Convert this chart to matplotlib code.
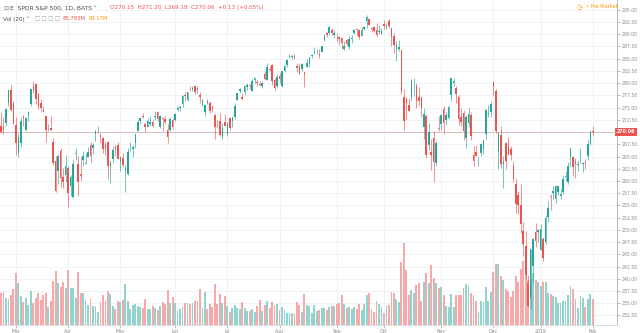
import matplotlib
matplotlib.use("Agg")
import matplotlib.pyplot as plt
import matplotlib.transforms as mtransforms
import numpy as np
import pandas as pd

# ---------------- data (SPY daily, BATS) ----------------
holidays = ['2018-03-30', '2018-05-28', '2018-07-04', '2018-09-03', '2018-11-22',
            '2018-12-05', '2018-12-25', '2019-01-01', '2019-01-21']
dates = [d for d in pd.bdate_range('2018-02-21', '2019-02-01')
         if d.strftime('%Y-%m-%d') not in holidays]

opens = [271.3, 271.1, 271.79, 275.99, 278.5, 276.0,
         271.41, 265.8, 267.73, 273.3, 270.42, 273.3, 275.71, 279.2, 279.85, 277.8, 275.88, 274.5, 273.35, 270.94, 270.9, 267.91, 264.17, 262.13, 266.17, 260.75, 261.12,
         262.55, 258.87, 256.75, 265.55, 263.42, 261.37, 264.27, 263.47, 264.91, 267.36, 266.82, 269.64, 270.38, 269.44, 268.8, 267.26, 267.99, 263.04, 264.42, 267.0, 267.26,
         263.87, 264.76, 262.26, 261.52, 266.89, 266.5, 267.7, 270.3, 272.25, 273.34, 271.56, 271.12, 271.72, 271.99, 273.02, 274.1, 271.12, 272.96, 272.63, 270.45, 270.32, 272.43,
         272.46, 274.52, 275.0, 275.75, 277.58, 276.58, 278.59, 278.74, 279.4, 279.09, 277.59, 275.57, 274.0, 276.26, 275.96, 275.09, 273.44, 271.64, 272.26, 269.29, 272.12,
         269.51, 272.87, 272.17, 273.14, 276.56, 278.42, 277.15, 278.28, 279.17, 279.64, 278.47, 280.56, 280.31, 279.77, 279.45, 281.79, 280.6, 282.94, 283.71, 280.6, 279.46,
         281.56, 279.39, 282.53, 283.64, 285.39, 285.39, 285.53, 283.45, 283.47, 282.92, 282.38, 283.4, 283.83, 285.57, 286.25, 286.09, 286.05, 286.44, 288.86, 290.3, 290.16, 290.94, 289.84,
         289.84, 289.41, 289.15, 286.98, 288.74, 287.37, 289.06, 290.32, 291.06, 290.88, 289.58, 291.0, 292.64, 293.09, 291.34, 291.53, 290.91, 290.41, 289.99,
         292.11, 291.56, 292.74, 291.18, 289.69, 287.05, 287.04, 286.84, 277.08, 276.77, 275.55, 277.08, 280.41, 279.4, 277.13, 277.0, 270.95, 273.33, 267.38, 265.92, 268.8, 263.67, 270.65,
         271.6, 274.75, 272.44, 272.8, 277.56, 280.11, 279.03, 277.19, 273.09, 273.81, 268.78, 271.79, 273.5, 265.36, 265.86, 263.2, 265.78, 266.52, 269.6, 273.71, 274.0,
         280.28, 278.37, 265.92, 269.46, 263.37, 267.66, 267.47, 266.52, 262.96, 259.4, 257.2, 255.17, 249.86, 246.74, 239.04, 235.97, 242.57, 249.58, 249.56,
         245.98, 248.23, 247.59, 252.69, 256.82, 257.56, 256.26, 257.68, 256.86, 257.82, 260.83, 259.76, 264.98, 264.82, 264.01, 263.21, 265.61, 263.39, 263.92, 265.1, 267.51,
         270.15]

highs = [274.0, 273.05, 274.71, 278.67, 279.64, 276.3,
         273.17, 269.72, 273.1, 273.39, 273.18, 274.24, 278.87, 280.41, 280.04, 278.0, 276.71, 275.39, 273.35, 271.67, 273.26, 268.87, 265.02, 265.43, 266.77, 262.64, 265.26,
         263.13, 261.31, 264.36, 266.64, 265.11, 264.84, 266.04, 265.64, 267.0, 267.89, 267.77, 270.52, 271.3, 269.88, 269.06, 267.92, 268.18, 264.21, 267.25, 267.34, 267.89,
         265.1, 265.68, 263.36, 266.79, 268.02, 267.32, 269.7, 272.4, 273.1, 273.97, 271.78, 272.78, 273.32, 272.5, 274.25, 274.25, 273.5, 273.18, 273.28, 271.7, 273.09, 272.87,
         273.94, 275.33, 275.52, 277.5, 278.09, 278.28, 279.36, 279.48, 279.64, 279.42, 278.13, 276.78, 275.75, 276.74, 276.26, 275.58, 273.62, 272.56, 273.86, 271.75, 273.66,
         272.04, 272.98, 273.18, 275.84, 277.96, 279.01, 278.04, 279.43, 279.93, 279.8, 280.91, 281.18, 280.74, 280.48, 280.43, 282.56, 284.21, 283.6, 283.82, 281.04, 281.77,
         282.13, 282.58, 283.66, 284.99, 286.01, 285.91, 285.97, 284.06, 284.16, 284.17, 282.38, 284.94, 285.56, 286.01, 287.31, 287.0, 286.93, 287.67, 289.9, 290.42, 291.74, 291.27, 290.81,
         290.21, 289.64, 289.49, 288.7, 289.04, 289.55, 289.8, 291.04, 291.27, 291.09, 291.58, 291.69, 293.94, 293.22, 291.5, 291.65, 292.24, 291.91, 291.28,
         292.93, 292.36, 293.21, 291.24, 290.27, 288.65, 288.86, 286.91, 278.9, 277.09, 277.04, 280.77, 281.15, 280.07, 279.3, 277.36, 274.87, 273.76, 271.81, 268.6, 270.25, 268.12, 273.23,
         273.73, 275.23, 274.01, 275.54, 281.1, 280.97, 279.42, 277.5, 274.85, 274.61, 273.44, 275.0, 274.01, 267.14, 267.36, 264.97, 267.82, 268.46, 274.62, 275.52, 276.33,
         280.4, 278.85, 269.97, 271.22, 265.16, 267.87, 269.0, 267.19, 264.03, 260.65, 257.95, 259.4, 251.62, 249.71, 240.84, 246.18, 248.29, 251.4, 250.19,
         251.21, 248.57, 253.11, 255.95, 257.31, 258.91, 259.16, 259.01, 258.3, 260.94, 261.98, 263.92, 266.98, 265.06, 264.79, 264.2, 266.7, 263.83, 264.55, 268.52, 270.47,
         271.2]

lows = [269.9, 269.64, 271.25, 275.37, 274.31, 271.57,
        265.25, 264.82, 267.0, 271.17, 270.2, 272.16, 275.34, 277.9, 275.64, 274.67, 274.1, 274.15, 267.98, 270.18, 270.19, 263.36, 257.83, 259.41, 258.84, 258.58, 259.84,
        254.67, 256.84, 256.6, 264.32, 257.0, 259.99, 262.98, 263.39, 264.8, 263.8, 265.5, 268.22, 269.87, 267.72, 265.65, 265.34, 260.42, 259.59, 263.72, 265.2, 264.43,
        262.11, 262.76, 257.82, 261.15, 266.11, 264.97, 266.67, 270.13, 271.61, 272.81, 269.97, 270.94, 271.34, 271.0, 272.5, 272.31, 270.86, 270.19, 271.6, 267.66, 270.25, 270.68,
        272.32, 274.32, 274.22, 275.19, 276.38, 276.39, 278.39, 278.4, 277.69, 277.97, 276.02, 275.41, 273.38, 275.71, 273.84, 274.18, 268.61, 270.79, 269.18, 268.49, 271.15,
        269.24, 270.42, 270.96, 272.72, 276.5, 278.08, 276.52, 277.6, 278.66, 278.84, 278.41, 280.06, 279.46, 279.5, 279.06, 280.55, 280.55, 282.55, 279.7, 278.64, 279.1,
        280.13, 279.16, 282.33, 283.2, 285.24, 284.94, 284.92, 282.36, 281.77, 282.48, 279.16, 283.23, 283.37, 285.08, 285.9, 285.96, 285.23, 286.38, 288.68, 289.4, 289.89, 289.83, 289.29,
        288.68, 287.89, 287.0, 286.71, 287.88, 286.98, 288.23, 289.99, 289.86, 289.1, 289.55, 290.83, 291.24, 291.81, 290.37, 290.48, 289.41, 290.1, 289.95,
        290.98, 291.14, 291.32, 287.66, 286.22, 284.55, 286.48, 277.8, 270.36, 272.37, 274.3, 276.26, 277.34, 274.97, 275.47, 273.17, 268.61, 264.7, 266.23, 262.29, 259.85, 263.12, 270.12,
        270.38, 269.59, 271.35, 272.71, 276.28, 279.47, 275.84, 271.51, 271.23, 268.45, 266.74, 271.09, 268.29, 263.11, 265.03, 263.07, 265.2, 265.6, 268.56, 272.99, 273.04,
        277.51, 269.9, 262.44, 262.63, 258.62, 262.48, 265.37, 264.25, 259.85, 253.53, 253.28, 249.35, 244.65, 239.98, 234.27, 233.76, 238.96, 246.45, 247.47,
        245.95, 243.67, 247.17, 251.69, 254.0, 256.19, 255.5, 257.03, 256.41, 257.3, 260.06, 259.46, 263.0, 261.06, 260.66, 262.08, 263.66, 261.79, 262.48, 264.25, 267.27,
        269.18]

closes = [270.05, 270.40, 274.71, 278.55, 274.43, 271.65,
          267.70, 269.08, 272.19, 272.88, 272.78, 274.10, 278.87, 278.52, 276.72, 275.30, 275.00, 274.20, 270.49, 270.95, 270.43, 263.67, 257.97, 265.11, 260.60, 259.83, 263.15,
          257.47, 260.77, 263.56, 265.64, 259.72, 261.00, 265.15, 263.76, 265.93, 265.15, 267.33, 270.19, 270.39, 268.89, 266.61, 266.57, 262.98, 263.63, 266.31, 266.56, 264.51,
          264.98, 263.20, 262.62, 266.02, 266.92, 266.92, 269.50, 272.02, 272.85, 272.98, 271.10, 272.24, 272.01, 271.33, 273.37, 272.64, 273.36, 272.76, 272.15, 269.02, 272.61, 270.94,
          273.60, 274.90, 275.10, 277.40, 277.37, 278.19, 278.56, 279.10, 278.19, 278.73, 277.13, 276.56, 275.50, 275.97, 274.24, 274.74, 271.00, 271.60, 269.35, 270.89, 271.28,
          271.86, 270.90, 273.11, 275.42, 277.90, 278.90, 276.86, 279.37, 279.59, 279.34, 280.47, 281.06, 279.99, 279.68, 279.96, 280.86, 283.36, 282.60, 280.40, 279.05, 281.33,
          280.86, 282.39, 283.60, 284.64, 285.58, 285.46, 285.07, 283.16, 281.85, 283.90, 281.78, 284.06, 285.06, 285.67, 286.34, 286.17, 285.79, 287.51, 289.78, 289.92, 291.48, 290.30, 290.31,
          289.81, 289.03, 288.16, 287.60, 288.10, 289.05, 289.12, 290.83, 290.88, 289.34, 290.91, 291.44, 293.58, 291.99, 291.02, 290.75, 289.88, 290.69, 290.72,
          291.73, 291.56, 291.72, 289.44, 287.82, 287.82, 287.40, 278.30, 272.17, 275.95, 274.40, 280.40, 280.45, 276.40, 276.25, 275.01, 273.61, 265.32, 270.08, 265.33, 263.86, 267.77, 270.63,
          273.51, 271.89, 273.39, 275.12, 281.01, 280.50, 277.76, 272.57, 272.06, 270.20, 273.02, 273.73, 269.10, 264.12, 265.02, 263.25, 267.50, 268.40, 274.58, 273.98, 275.65,
          279.30, 270.25, 269.84, 263.57, 264.07, 264.13, 265.46, 265.37, 260.47, 255.36, 255.08, 251.26, 247.17, 240.70, 234.34, 246.18, 248.07, 247.75, 249.92,
          250.18, 244.21, 252.39, 254.38, 256.77, 257.97, 258.88, 258.98, 257.40, 260.35, 260.98, 262.96, 266.46, 262.86, 263.41, 263.55, 265.78, 263.76, 263.41, 267.58, 269.93,
          270.06]

volumes_m = [105, 110, 88, 85, 99, 118,
             173, 137, 96, 77, 88, 66, 112, 72, 88, 105, 83, 99, 107, 58, 79, 145, 179, 140, 124, 143, 121,
             182, 121, 121, 88, 174, 105, 105, 83, 66, 85, 63, 63, 44, 77, 99, 80, 112, 102, 63, 52, 80,
             77, 83, 134, 80, 52, 66, 69, 63, 58, 55, 86, 53, 52, 63, 57, 50, 63, 77, 69, 116, 72, 91,
             74, 46, 52, 60, 72, 72, 69, 72, 79, 79, 118, 55, 110, 52, 69, 58, 134, 69, 102, 74, 96,
             63, 44, 55, 66, 55, 52, 77, 57, 46, 46, 52, 44, 63, 83, 46, 66, 79, 55, 77, 66, 68,
             50, 61, 50, 41, 41, 39, 35, 77, 66, 44, 102, 66, 63, 41, 66, 46, 50, 55, 55, 50, 61, 63, 63,
             69, 74, 99, 69, 55, 58, 52, 58, 53, 68, 50, 69, 99, 105, 53, 44, 79, 69, 61,
             41, 63, 66, 108, 105, 85, 77, 209, 270, 182, 99, 116, 107, 132, 138, 80, 143, 173, 138, 198, 154, 140, 121,
             124, 99, 63, 58, 102, 58, 99, 99, 99, 123, 134, 127, 107, 99, 80, 44, 79, 77, 124, 80, 110,
             174, 201, 200, 160, 149, 118, 113, 94, 112, 162, 143, 185, 211, 217, 149, 151, 173, 149, 143,
             129, 141, 141, 105, 101, 96, 94, 74, 74, 80, 80, 99, 127, 118, 85, 57, 96, 88, 58, 85, 101,
             85.783]

assert len(dates) == len(opens) == len(highs) == len(lows) == len(closes) == len(volumes_m)

UP, DOWN = '#26a69a', '#ef5350'
UP_V, DOWN_V = '#93d3cd', '#f6a9a8'
GRID = '#eef1f5'

n = len(dates)
idx = np.arange(n)
o = np.array(opens); c = np.array(closes); h = np.array(highs); l = np.array(lows)
vol = np.array(volumes_m) * 1e6
up = c >= o

W, H = 640, 333
right_px, bottom_px = 617, 325
rect = [0, (H - bottom_px) / H, right_px / W, bottom_px / H]

fig = plt.figure(figsize=(6.4, 3.33), dpi=100)
fig.patch.set_facecolor('white')

axg = fig.add_axes(rect)                            # background: grid + axis labels
axv = fig.add_axes(rect, sharex=axg)                # volume
axp = fig.add_axes(rect, sharex=axg, sharey=axg)    # candles

ymin, ymax = 230.55, 297.0
axg.set_ylim(ymin, ymax)
axg.set_xlim(-0.4, 247.7)

# month ticks from dates
month_idx, month_lab = [], []
for i in range(1, n):
    if dates[i].month != dates[i - 1].month:
        month_idx.append(i)
        month_lab.append('2019' if dates[i].month == 1 else dates[i].strftime('%b'))

axg.set_xticks(month_idx)
axg.set_xticklabels(month_lab)
yt = np.arange(232.5, 297.5, 2.5)
axg.set_yticks(yt)
# the last-price tag covers the label nearest to it
last = closes[-1]
axg.set_yticklabels(['' if abs(v - last) < 1.2 else '%.2f' % v for v in yt])
axg.yaxis.tick_right()
axg.tick_params(axis='both', labelsize=3.3, colors='#8a8a8a', length=1.8, width=0.4, pad=1.2)
axg.grid(True, color=GRID, linewidth=0.6)
for s in ['top', 'left']:
    axg.spines[s].set_visible(False)
axg.spines['right'].set_color('#b0b0b0')
axg.spines['right'].set_linewidth(0.6)
axg.spines['bottom'].set_color('#d0d0d0')
axg.spines['bottom'].set_linewidth(0.5)

# volume
axv.patch.set_visible(False)
axv.bar(idx, vol, width=0.75, color=[UP_V if u else DOWN_V for u in up], linewidth=0)
axv.set_ylim(0, 1072e6)
axv.axis('off')

# candles
axp.patch.set_visible(False)
cols = [UP if u else DOWN for u in up]
axp.vlines(idx, l, h, colors=cols, linewidth=0.45)
body_lo = np.minimum(o, c)
body_h = np.maximum(np.abs(c - o), 0.1)
axp.bar(idx, body_h, bottom=body_lo, width=0.62, color=cols, linewidth=0)
axp.axhline(last, color='#d8b4b4', linewidth=0.6, zorder=0)
axp.axis('off')

# last price tag
trans = mtransforms.blended_transform_factory(axg.transAxes, axg.transData)
axg.text(1.0, last, '%.2f' % last, transform=trans, ha='left', va='center',
         fontsize=3.4, color='white', fontweight='bold',
         bbox=dict(boxstyle='square,pad=0.35', fc=DOWN, ec='none'))

# header texts
def ft(x, y, s, **kw):
    fig.text(x / W, 1 - y / H, s, va='center', ha='left', **kw)

ft(3, 8, '⊟', fontsize=4.5, color='#8a8a8a')
ft(10, 8, 'E  SPDR S&P 500, 1D, BATS ˅', fontsize=4.3, color='#4a4a4a')
ft(110, 8, 'O%.2f  H%.2f  L%.2f  C%.2f  +0.13 (+0.05%%)' % (o[-1], h[-1], l[-1], c[-1]),
   fontsize=4.1, color=DOWN)
ft(3, 19, 'Vol (20) ˅', fontsize=4.1, color='#4a4a4a')
ft(35, 19, '□ □ □ □', fontsize=3.8, color='#9a9a9a')
ft(63, 19, '%.3fM' % volumes_m[-1], fontsize=3.8, color=DOWN)
ft(89, 19, '93.17M', fontsize=3.8, color='#ff9800')
ft(577, 7, '◷', fontsize=4.8, color='#ff9800')
ft(586, 7, '• Pre Market', fontsize=3.6, color='#ff9800')

fig.savefig('out.png', dpi=100, facecolor='white')
